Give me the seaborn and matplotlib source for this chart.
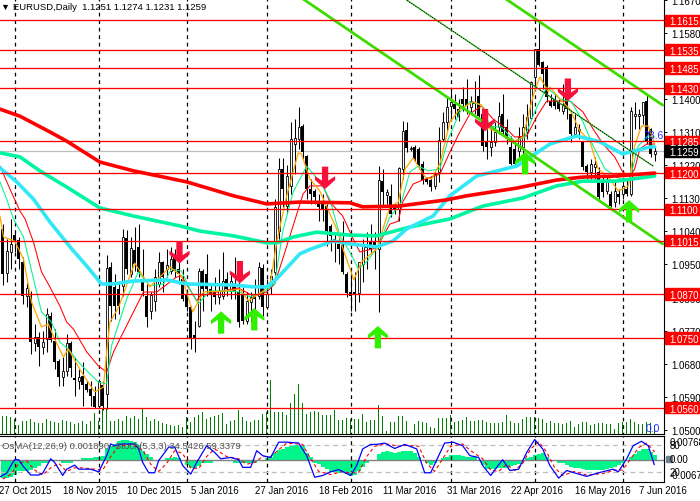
import matplotlib
matplotlib.use("Agg")
import matplotlib.pyplot as plt
import numpy as np
import seaborn as sns
from matplotlib.patches import Rectangle
from matplotlib.path import Path as MPath
from matplotlib.transforms import blended_transform_factory

opens = [
    1.1047, 1.0927, 1.0984, 1.1030, 1.1017, 1.0957, 1.0864, 1.0864, 1.0736, 1.0753,
    1.0725, 1.0747, 1.0810, 1.0742, 1.0687, 1.0644, 1.0660, 1.0736, 1.0641, 1.0633,
    1.0646, 1.0625, 1.0611, 1.0592, 1.0565, 1.0622, 1.0597, 1.0943, 1.0889, 1.0883,
    1.0892, 1.1022, 1.0924, 1.0990, 1.0998, 1.0911, 1.0864, 1.0823, 1.0851, 1.0897,
    1.0957, 1.0938, 1.0932, 1.0970, 1.0938, 1.0911, 1.0867, 1.0834, 1.0758, 1.0783,
    1.0932, 1.0924, 1.0883, 1.0878, 1.0862, 1.0864, 1.0911, 1.0878, 1.0892, 1.0875,
    1.0870, 1.0796, 1.0848, 1.0870, 1.0864, 1.0941, 1.0834, 1.0892, 1.0930, 1.1041,
    1.1210, 1.1109, 1.1164, 1.1278, 1.1292, 1.1327, 1.1245, 1.1156, 1.1150, 1.1120,
    1.1120, 1.1109, 1.1055, 1.1020, 1.1006, 1.1014, 1.0924, 1.0875, 1.0875, 1.0873,
    1.0951, 1.1006, 1.1011, 1.1014, 1.0992, 1.1177, 1.1139, 1.1137, 1.1109, 1.1101,
    1.1210, 1.1316, 1.1265, 1.1270, 1.1265, 1.1224, 1.1183, 1.1180, 1.1164, 1.1202,
    1.1292, 1.1338, 1.1382, 1.1387, 1.1373, 1.1401, 1.1401, 1.1379, 1.1393, 1.1409,
    1.1360, 1.1284, 1.1270, 1.1284, 1.1324, 1.1360, 1.1324, 1.1270, 1.1265, 1.1259,
    1.1270, 1.1311, 1.1349, 1.1461, 1.1537, 1.1501, 1.1488, 1.1395, 1.1401, 1.1393,
    1.1368, 1.1409, 1.1360, 1.1305, 1.1314, 1.1284, 1.1218, 1.1202, 1.1216, 1.1202,
    1.1175, 1.1150, 1.1142, 1.1120, 1.1142, 1.1142, 1.1156, 1.1142, 1.1354, 1.1354,
    1.1357, 1.1395, 1.1319, 1.1251,
]
highs = [
    1.1060, 1.1020, 1.1074, 1.1038, 1.1025, 1.0970, 1.0900, 1.0878, 1.0788, 1.0766,
    1.0769, 1.0832, 1.0821, 1.0774, 1.0693, 1.0698, 1.0761, 1.0742, 1.0698, 1.0665,
    1.0685, 1.0633, 1.0633, 1.0619, 1.0638, 1.0633, 1.0976, 1.0957, 1.0924, 1.0905,
    1.1047, 1.1044, 1.1025, 1.1052, 1.1060, 1.0992, 1.0897, 1.0875, 1.0938, 1.0984,
    1.0960, 1.0992, 1.0998, 1.0992, 1.0960, 1.0938, 1.0883, 1.0837, 1.0796, 1.0941,
    1.0938, 1.0979, 1.0897, 1.0916, 1.0938, 1.0984, 1.0930, 1.0924, 1.0970, 1.0924,
    1.0889, 1.0875, 1.0875, 1.0911, 1.0957, 1.0951, 1.0911, 1.0938, 1.1128, 1.1240,
    1.1240, 1.1221, 1.1338, 1.1346, 1.1379, 1.1333, 1.1248, 1.1183, 1.1156, 1.1142,
    1.1142, 1.1115, 1.1060, 1.1033, 1.1025, 1.1068, 1.0930, 1.0932, 1.0930, 1.0957,
    1.1020, 1.1038, 1.1060, 1.1038, 1.1218, 1.1210, 1.1156, 1.1169, 1.1115, 1.1215,
    1.1341, 1.1338, 1.1273, 1.1275, 1.1270, 1.1232, 1.1188, 1.1191, 1.1205, 1.1324,
    1.1365, 1.1406, 1.1428, 1.1414, 1.1401, 1.1433, 1.1455, 1.1409, 1.1450, 1.1466,
    1.1365, 1.1319, 1.1341, 1.1338, 1.1393, 1.1414, 1.1346, 1.1300, 1.1286, 1.1324,
    1.1360, 1.1387, 1.1450, 1.1537, 1.1613, 1.1504, 1.1493, 1.1414, 1.1414, 1.1401,
    1.1442, 1.1447, 1.1365, 1.1360, 1.1333, 1.1286, 1.1224, 1.1237, 1.1243, 1.1216,
    1.1191, 1.1188, 1.1150, 1.1177, 1.1156, 1.1183, 1.1183, 1.1379, 1.1393, 1.1373,
    1.1393, 1.1412, 1.1322, 1.1274,
]
lows = [
    1.0894, 1.0902, 1.0938, 1.0984, 1.0938, 1.0843, 1.0834, 1.0706, 1.0715, 1.0674,
    1.0706, 1.0712, 1.0739, 1.0665, 1.0619, 1.0619, 1.0646, 1.0644, 1.0592, 1.0611,
    1.0565, 1.0603, 1.0565, 1.0559, 1.0559, 1.0554, 1.0557, 1.0796, 1.0802, 1.0815,
    1.0864, 1.0924, 1.0916, 1.0932, 1.0916, 1.0864, 1.0780, 1.0802, 1.0823, 1.0889,
    1.0875, 1.0916, 1.0924, 1.0916, 1.0897, 1.0851, 1.0823, 1.0720, 1.0712, 1.0780,
    1.0823, 1.0864, 1.0823, 1.0843, 1.0843, 1.0856, 1.0864, 1.0856, 1.0856, 1.0780,
    1.0788, 1.0788, 1.0793, 1.0829, 1.0856, 1.0810, 1.0829, 1.0870, 1.0921, 1.1020,
    1.1107, 1.1088, 1.1142, 1.1196, 1.1265, 1.1237, 1.1128, 1.1115, 1.1115, 1.1068,
    1.1068, 1.1000, 1.0987, 1.0957, 1.0951, 1.0924, 1.0862, 1.0823, 1.0823, 1.0848,
    1.0902, 1.0938, 1.0984, 1.0938, 1.0821, 1.1109, 1.1115, 1.1079, 1.1088, 1.1068,
    1.1183, 1.1256, 1.1259, 1.1232, 1.1210, 1.1169, 1.1169, 1.1150, 1.1156, 1.1175,
    1.1286, 1.1311, 1.1346, 1.1346, 1.1341, 1.1368, 1.1360, 1.1360, 1.1360, 1.1352,
    1.1259, 1.1237, 1.1245, 1.1273, 1.1305, 1.1305, 1.1278, 1.1221, 1.1218, 1.1237,
    1.1251, 1.1292, 1.1346, 1.1433, 1.1491, 1.1428, 1.1393, 1.1379, 1.1373, 1.1368,
    1.1360, 1.1346, 1.1284, 1.1300, 1.1292, 1.1207, 1.1183, 1.1183, 1.1183, 1.1128,
    1.1134, 1.1142, 1.1107, 1.1107, 1.1115, 1.1128, 1.1137, 1.1137, 1.1319, 1.1319,
    1.1333, 1.1278, 1.1243, 1.1231,
]
closes = [
    1.0924, 1.0987, 1.1006, 1.1011, 1.0965, 1.0864, 1.0886, 1.0739, 1.0753, 1.0725,
    1.0739, 1.0815, 1.0744, 1.0685, 1.0644, 1.0660, 1.0736, 1.0668, 1.0636, 1.0644,
    1.0622, 1.0608, 1.0592, 1.0562, 1.0633, 1.0565, 1.0941, 1.0837, 1.0837, 1.0837,
    1.1025, 1.0938, 1.0995, 1.0951, 1.0930, 1.0878, 1.0807, 1.0867, 1.0916, 1.0957,
    1.0916, 1.0949, 1.0965, 1.0932, 1.0924, 1.0856, 1.0834, 1.0747, 1.0750, 1.0932,
    1.0883, 1.0883, 1.0870, 1.0862, 1.0878, 1.0905, 1.0883, 1.0905, 1.0878, 1.0793,
    1.0796, 1.0851, 1.0862, 1.0856, 1.0943, 1.0834, 1.0870, 1.0919, 1.1107, 1.1210,
    1.1156, 1.1191, 1.1292, 1.1295, 1.1324, 1.1256, 1.1156, 1.1142, 1.1134, 1.1107,
    1.1101, 1.1041, 1.1028, 1.1011, 1.0992, 1.0930, 1.0873, 1.0864, 1.0870, 1.0957,
    1.1006, 1.0995, 1.0992, 1.0998, 1.1180, 1.1147, 1.1147, 1.1088, 1.1101, 1.1213,
    1.1314, 1.1267, 1.1267, 1.1237, 1.1221, 1.1180, 1.1175, 1.1161, 1.1196, 1.1289,
    1.1338, 1.1379, 1.1393, 1.1373, 1.1352, 1.1387, 1.1382, 1.1395, 1.1387, 1.1354,
    1.1273, 1.1270, 1.1284, 1.1311, 1.1354, 1.1311, 1.1297, 1.1224, 1.1224, 1.1297,
    1.1324, 1.1352, 1.1447, 1.1537, 1.1493, 1.1469, 1.1406, 1.1382, 1.1382, 1.1373,
    1.1387, 1.1373, 1.1305, 1.1324, 1.1319, 1.1216, 1.1202, 1.1224, 1.1224, 1.1134,
    1.1147, 1.1175, 1.1109, 1.1150, 1.1134, 1.1164, 1.1142, 1.1368, 1.1360, 1.1360,
    1.1393, 1.1284, 1.1251, 1.1259,
]
volumes = [
    1800, 1800, 1700, 1500, 900, 1300, 1300, 1500, 1200, 1100,
    1100, 1500, 1300, 1200, 1100, 1400, 1300, 1200, 1000, 1100,
    1300, 1000, 1300, 2100, 1300, 2500, 2600, 1300, 1300, 1500,
    1300, 1800, 1600, 1800, 1500, 2600, 1700, 1300, 1500, 1300,
    1100, 1000, 900, 800, 900, 700, 1700, 1200, 1700, 1900,
    2200, 1500, 1700, 1800, 1900, 2100, 1000, 1300, 1400, 2400,
    1700, 1300, 1200, 1400, 1400, 2000, 2200, 5400, 2200, 2200,
    2200, 1900, 3100, 4000, 5000, 3100, 2000, 2200, 2300, 2200,
    1900, 1900, 1900, 2400, 1400, 1400, 1600, 1500, 1500, 1500,
    2000, 1200, 1400, 1400, 2900, 1800, 300, 1200, 1200, 1800,
    1800, 1300, 100, 1000, 1300, 1200, 1100, 700, 600, 1600,
    1600, 1600, 1900, 1200, 1300, 1400, 1700, 1300, 1300, 1400,
    1400, 1200, 1100, 1100, 1100, 1200, 1900, 1300, 1100, 1100,
    1500, 1700, 1700, 1700, 1600, 1500, 1100, 1300, 1100, 1100,
    1000, 1100, 1300, 700, 1000, 1200, 1200, 900, 1000, 1100,
    1100, 1000, 1000, 500, 1100, 1200, 1200, 1500, 1200, 1000,
    1000, 1200, 1100, 900,
]
# OsMA in units of 0.0001
osma_points = [
    -77, -77, -73, -65, -47, -47, -47, -43, -34, -26,
    -13, -9, -4, 0, -4, -9, -13, -13, -4, 4,
    9, 9, 9, 13, 17, 21, 52, 65, 73, 86,
    90, 90, 86, 82, 69, 43, 30, 13, 4, 4,
    4, 9, 9, 13, 9, 4, -21, -34, -34, -26,
    -13, -13, -9, -4, 0, -4, -4, -4, -9, -9,
    -9, -13, -13, -9, -4, 0, 9, 17, 34, 47,
    52, 60, 65, 69, 69, 69, 34, 13, -9, -17,
    -30, -39, -52, -52, -56, -56, -60, -69, -65, -47,
    -30, -13, -4, 4, 30, 39, 43, 39, 34, 39,
    43, 43, 43, 34, 17, 4, -9, -21, -13, 0,
    9, 17, 26, 26, 26, 21, 17, 17, 13, -4,
    -21, -39, -39, -39, -34, -34, -34, -26, -21, -17,
    -4, 9, 17, 26, 30, 34, 17, 4, -4, -9,
    -13, -21, -30, -34, -34, -39, -43, -43, -43, -43,
    -43, -39, -34, -30, -21, -13, 4, 13, 30, 43,
    52, 52, 39, 26,
]

ma200_bars = [-0.67, 4.3, 11.8, 16, 24.3, 32.7, 46, 57.7, 66, 74.3, 86.8, 90, 99, 111, 116, 128.5, 138.5, 145, 153.5, 163]
ma200 = [1.1373, 1.1354, 1.1311, 1.1286, 1.1229, 1.1205, 1.1175, 1.1137, 1.1115, 1.1120, 1.1118, 1.1107, 1.1109, 1.1126, 1.1137, 1.1158, 1.1180, 1.1188, 1.1191, 1.1199]
ma100_bars = [-0.67, 4.3, 9.3, 16, 24.3, 32.7, 44.3, 49.3, 57.7, 66, 68.5, 72.7, 78.5, 86.8, 93.5, 101.8, 111.8, 120, 130, 138.5, 145, 153.5, 163]
ma100 = [1.1254, 1.1243, 1.1205, 1.1161, 1.1104, 1.1082, 1.1055, 1.1041, 1.1028, 1.1009, 1.1009, 1.1025, 1.1038, 1.1030, 1.1028, 1.1052, 1.1074, 1.1109, 1.1131, 1.1164, 1.1177, 1.1177, 1.1191]
ma50_bars = [-0.67, 3.5, 7.7, 11.8, 17.3, 21, 24.7, 27.7, 32.7, 41, 46, 57.7, 62.7, 66, 68.5, 74.3, 77, 82.7, 86.8, 93.5, 97.6, 101, 107.6, 111.8, 118.5, 128.5, 136.8, 143.5, 149.3, 155, 161.8, 163]
ma50 = [1.1213, 1.1175, 1.1128, 1.1066, 1.0992, 1.0946, 1.0897, 1.0897, 1.0905, 1.0908, 1.0897, 1.0894, 1.0889, 1.0889, 1.0911, 1.0979, 1.0992, 1.1014, 1.1006, 1.0998, 1.1014, 1.1047, 1.1082, 1.1137, 1.1191, 1.1218, 1.1278, 1.1300, 1.1284, 1.1251, 1.1270, 1.1270]
slow_red_bars = [-0.67, 1.8, 4.3, 5.6, 7.7, 9.7, 11.8, 14.3, 16, 17.7, 21, 23.9, 26, 27.7, 32.7, 35.2, 38.5, 43.5, 44.7, 48.5, 49.3, 53.5, 58.9, 62.7, 66, 68, 70, 72.6, 75.1, 76.8, 80.1, 81.8, 85, 87.6, 89.3, 93.5, 96.8, 98.9, 100, 102.6, 105, 109.3, 111.8, 114.3, 116.8, 119.7, 122.6, 126, 128, 131, 133.5, 136, 139.3, 141.8, 145.1, 147.6, 150.1, 153, 155, 156.8, 158, 159.3, 161, 163]
slow_red = [1.1218, 1.1156, 1.1096, 1.1074, 1.1011, 1.0930, 1.0889, 1.0837, 1.0793, 1.0774, 1.0712, 1.0674, 1.0657, 1.0712, 1.0821, 1.0875, 1.0875, 1.0916, 1.0919, 1.0851, 1.0864, 1.0875, 1.0886, 1.0864, 1.0875, 1.0897, 1.0965, 1.1055, 1.1142, 1.1164, 1.1164, 1.1120, 1.1082, 1.1020, 1.0984, 1.0995, 1.1060, 1.1068, 1.1120, 1.1169, 1.1180, 1.1196, 1.1256, 1.1311, 1.1360, 1.1382, 1.1346, 1.1319, 1.1297, 1.1300, 1.1352, 1.1395, 1.1395, 1.1395, 1.1365, 1.1319, 1.1278, 1.1243, 1.1202, 1.1191, 1.1210, 1.1265, 1.1278, 1.1278]
mid_green_bars = [-0.67, 1, 2.7, 5.2, 7.7, 9.7, 12.2, 14.3, 16.8, 18.9, 21.8, 23.9, 26, 27.2, 31, 33.9, 36.8, 40.2, 42.2, 44.7, 46.8, 48.9, 51.8, 56, 59.3, 61.8, 65.2, 68, 70, 72.6, 76, 79.3, 81.8, 84.3, 86.8, 88.9, 91, 93.9, 96.8, 99.7, 101.8, 103.9, 106.4, 109.3, 111.4, 114.3, 116.8, 119.7, 121.8, 124.7, 128, 130.5, 133, 136, 139.3, 142.2, 145.1, 147.6, 150.6, 154.3, 156.8, 158.9, 161.4, 163]
mid_green = [1.1175, 1.1128, 1.1074, 1.1025, 1.0911, 1.0821, 1.0793, 1.0739, 1.0715, 1.0685, 1.0652, 1.0630, 1.0625, 1.0728, 1.0856, 1.0930, 1.0892, 1.0897, 1.0938, 1.0932, 1.0883, 1.0843, 1.0878, 1.0878, 1.0875, 1.0862, 1.0875, 1.0897, 1.1039, 1.1147, 1.1218, 1.1175, 1.1128, 1.1028, 1.0984, 1.0938, 1.0957, 1.1000, 1.1079, 1.1120, 1.1202, 1.1218, 1.1205, 1.1210, 1.1292, 1.1365, 1.1393, 1.1384, 1.1327, 1.1324, 1.1286, 1.1297, 1.1365, 1.1433, 1.1401, 1.1393, 1.1338, 1.1273, 1.1210, 1.1183, 1.1183, 1.1273, 1.1300, 1.1297]
fast_orange_bars = [-0.67, 0.2, 3, 5.2, 7.2, 9.7, 11.4, 13, 15.2, 16.4, 19.7, 23, 25.2, 26, 26.8, 29, 33, 36.8, 41.8, 44.7, 47.5, 50.2, 56, 59.3, 61.4, 65.2, 67, 68.5, 71, 73.9, 74.7, 76.8, 79.3, 81.8, 83.5, 85.1, 87.8, 89.7, 93.5, 96.8, 98.9, 100.6, 102.6, 105.6, 107.2, 109.3, 111.8, 114.3, 117.6, 119.7, 121.8, 124.7, 128, 130.1, 132.6, 134.3, 136.4, 136.8, 139.3, 141.8, 144.3, 146.8, 148.9, 151.8, 153.9, 156.4, 158, 159.7, 161.4, 163]
fast_orange = [1.1082, 1.1025, 1.1014, 1.0965, 1.0848, 1.0780, 1.0788, 1.0747, 1.0698, 1.0720, 1.0657, 1.0603, 1.0616, 1.0712, 1.0793, 1.0834, 1.0954, 1.0889, 1.0943, 1.0919, 1.0821, 1.0875, 1.0878, 1.0883, 1.0851, 1.0878, 1.0905, 1.1011, 1.1137, 1.1254, 1.1251, 1.1183, 1.1150, 1.1088, 1.1047, 1.0992, 1.0908, 1.0957, 1.0992, 1.1107, 1.1120, 1.1210, 1.1240, 1.1188, 1.1183, 1.1224, 1.1338, 1.1373, 1.1393, 1.1384, 1.1319, 1.1305, 1.1286, 1.1297, 1.1409, 1.1461, 1.1420, 1.1433, 1.1401, 1.1373, 1.1314, 1.1286, 1.1210, 1.1183, 1.1150, 1.1164, 1.1273, 1.1327, 1.1327, 1.1278]

stoch_bars = [-0.67, 1, 2.25, 3, 4, 5, 7, 9, 10, 12, 13, 15, 16, 18, 19, 22, 24, 26, 27, 28, 30, 33, 34, 35, 36.5, 38, 39, 41.5, 43, 45, 47, 48.5, 51, 53, 54.5, 57, 59, 60, 62, 63.5, 65, 67, 69, 71, 74, 76, 78, 80, 82, 84, 87, 88.5, 90, 92, 93.5, 95.5, 98, 100.5, 103.5, 105.5, 107, 109, 110.5, 112.6, 115, 116.8, 119, 120, 122, 123.5, 125, 126.8, 129, 131, 133, 135, 136.8, 139, 141, 144, 146, 149, 152.6, 153.9, 156, 157.6, 159.7, 161.4, 162.9]
stoch_main = [10, 18, 38, 48, 48, 35, 14, 14, 18, 50, 42, 13, 27, 36, 27, 27, 21, 57, 83, 79, 83, 83, 72, 42, 19, 19, 46, 76, 76, 35, 16, 42, 79, 64, 50, 53, 48, 31, 31, 68, 57, 53, 87, 87, 85, 57, 9, 13, 21, 26, 13, 35, 72, 82, 82, 85, 73, 82, 72, 19, 19, 57, 85, 87, 79, 57, 53, 35, 13, 31, 48, 24, 27, 64, 93, 72, 35, 7, 24, 16, 11, 19, 27, 21, 50, 79, 89, 79, 37]
signal_bars = [0, 2, 4, 6, 8, 10, 12, 14, 16, 18, 20, 23, 25, 27, 29, 32, 35, 37, 39, 41, 43, 45, 47, 49, 51, 53, 56, 59, 61, 63, 65, 67, 69, 71, 75, 77, 79, 82, 85, 87, 89, 91, 93, 96, 99, 101, 104, 106, 108, 110, 112, 115, 117, 120, 122, 124, 126, 128, 130, 132, 134, 136, 138, 140, 143, 146, 150, 153, 155, 157, 159, 161, 163]
stoch_signal = [5, 15, 40, 45, 25, 14, 30, 40, 22, 30, 30, 27, 25, 55, 78, 82, 70, 38, 22, 40, 68, 62, 30, 28, 55, 72, 55, 50, 38, 42, 55, 55, 70, 85, 82, 50, 22, 15, 22, 18, 20, 55, 78, 83, 78, 80, 78, 40, 22, 50, 78, 83, 68, 50, 25, 22, 38, 24, 40, 72, 88, 65, 30, 13, 22, 14, 17, 25, 25, 50, 75, 85, 65]

level_prices = [1.1615, 1.1535, 1.1485, 1.1430, 1.1285, 1.1200, 1.1100, 1.1015, 1.0870, 1.0750, 1.0560]
level_labels = ["1.1615", "1.1535", "1.1485", "1.1430", "1.1285", "1.1200", "1.1100", "1.1015", "1.0870", "1.0750", "1.0560"]
axis_prices = [1.1670, 1.1580, 1.1490, 1.1400, 1.1310, 1.1220, 1.1130, 1.1040, 1.0950, 1.0860, 1.0770, 1.0680, 1.0590, 1.0500]
separator_bars = [3, 24, 46, 66, 87, 112, 133, 155]
date_bars = [-1, 15, 31, 47, 63, 79, 95, 111, 127, 143, 159]
date_labels = ["27 Oct 2015", "18 Nov 2015", "10 Dec 2015", "5 Jan 2016", "27 Jan 2016", "18 Feb 2016",
               "11 Mar 2016", "31 Mar 2016", "22 Apr 2016", "16 May 2016", "7 Jun 2016"]
channel_bars = [[75.1, 165], [125.8, 165]]
channel_prices = [[1.1673, 1.1006], [1.1673, 1.1384]]
mid_channel_bars = [100.6, 162.6]
mid_channel_prices = [1.1673, 1.1218]
sell_bars = [44.2, 59.3, 80.6, 120.6, 141.3]
sell_prices = [1.0983, 1.0929, 1.1186, 1.1343, 1.1426]
buy_bars = [54.6, 62.9, 93.8, 130.6, 156.6]
buy_prices = [1.0792, 1.0801, 1.0752, 1.1226, 1.1095]

LAST_PRICE = 1.1259
RED = "#FF0000"
DOWN_ARROW = MPath([(-.28, 1), (.28, 1), (.28, -.25), (.9, .15), (.9, -.2), (0, -1), (-.9, -.2), (-.9, .15), (-.28, -.25), (-.28, 1)], closed=True)
UP_ARROW = MPath([(x, -y) for x, y in DOWN_ARROW.vertices], closed=True)

sns.set_theme(style="white")
plt.rcParams["font.family"] = ["Liberation Sans", "DejaVu Sans"]
plt.rcParams["axes.edgecolor"] = "black"
plt.rcParams["axes.linewidth"] = 0.8

W, H = 700, 502
fig = plt.figure(figsize=(7, 5.02), dpi=100)
ax_vol = fig.add_axes([0, 1 - 434.5 / H, 664 / W, 434.5 / H], zorder=0)
ax = fig.add_axes([0, 1 - 434.5 / H, 664 / W, 434.5 / H], zorder=1)
ax_osma = fig.add_axes([0, 1 - 482.5 / H, 664 / W, 46 / H], zorder=0)
ax_sub = fig.add_axes([0, 1 - 482.5 / H, 664 / W, 46 / H], zorder=1)
ax.patch.set_visible(False)
ax_sub.patch.set_visible(False)

xlim = (-0.67, 165.33)
bars = np.arange(len(opens))
opens_a, highs_a, lows_a, closes_a = map(np.array, (opens, highs, lows, closes))
rising = closes_a >= opens_a

# volume sits behind the candles, bars give a crisper green than thin lines
ax_vol.bar(bars, volumes, width=0.3, color="#008000", lw=0)
ax_vol.set(xlim=xlim, ylim=(0, 43450), xticks=[], yticks=[])
ax_vol.spines[:].set_visible(False)

ax.vlines(separator_bars, 1.04, 1.17, color="black", lw=0.9, linestyles=(0, (3, 3)), zorder=1)
ax.vlines(bars, lows_a, highs_a, color="black", lw=0.75, zorder=2)
ax.bar(bars[~rising], (opens_a - closes_a)[~rising], bottom=closes_a[~rising], width=0.62, color="black", lw=0, zorder=3)
ax.bar(bars[rising], (closes_a - opens_a)[rising], bottom=opens_a[rising], width=0.5, facecolor="white",
       edgecolor="black", lw=0.6, zorder=3)

ax.axhline(LAST_PRICE, color="#BEBEBE", lw=0.9, zorder=1.5)

for xs, ys, color, lw in [
    (slow_red_bars, slow_red, RED, 0.75),
    (mid_green_bars, mid_green, "#00F58A", 0.75),
    (fast_orange_bars, fast_orange, "#FFA500", 0.9),
    (ma100_bars, ma100, "#00F5A0", 2.6),
    (ma50_bars, ma50, "#30E8F8", 2.6),
    (ma200_bars, ma200, RED, 2.6),
]:
    sns.lineplot(x=xs, y=ys, color=color, lw=lw, estimator=None, sort=False, ax=ax, zorder=4)

for xs, ys in zip(channel_bars, channel_prices):
    sns.lineplot(x=xs, y=ys, color="#3CDC00", lw=2.0, estimator=None, ax=ax, zorder=5)
sns.lineplot(x=mid_channel_bars, y=mid_channel_prices, color="#30C020", lw=0.9, estimator=None, ax=ax, zorder=5)
sns.lineplot(x=mid_channel_bars, y=mid_channel_prices, color="black", lw=0.6, ls=(0, (1.5, 1.5)), estimator=None, ax=ax, zorder=5)

for price in level_prices:
    ax.axhline(price, color=RED, lw=0.95, zorder=5)

sns.scatterplot(x=sell_bars, y=sell_prices, marker=DOWN_ARROW, s=260, color="#F8103C", edgecolor="none", ax=ax, zorder=6)
sns.scatterplot(x=buy_bars, y=buy_prices, marker=UP_ARROW, s=260, color="#30F000", edgecolor="none", ax=ax, zorder=6)

ax.set(xlim=xlim, ylim=(1.1673 - 434.5 / 3672, 1.1673), xticks=[], xlabel="", ylabel="")
ax.yaxis.tick_right()
ax.set_yticks(axis_prices, [f"{p:.4f}" for p in axis_prices])
ax.tick_params(axis="y", right=True, length=2.5, width=0.7, pad=2.5, labelsize=7, labelcolor="black", color="black")
for name in ("left", "top"):
    ax.spines[name].set_visible(False)

price_tr = ax.get_yaxis_transform()
for price, label in zip(level_prices, level_labels):
    ax.add_patch(Rectangle((1.0015, price - 0.00155), 0.06, 0.0031, transform=price_tr, color=RED, clip_on=False, zorder=10))
    ax.text(1.0085, price, label, transform=price_tr, color="white", fontsize=7, va="center_baseline", ha="left", zorder=11, clip_on=False)
ax.add_patch(Rectangle((1.0015, LAST_PRICE - 0.00155), 0.06, 0.0031, transform=price_tr, color="black", clip_on=False, zorder=10))
ax.text(1.0085, LAST_PRICE, f"{LAST_PRICE:.4f}", transform=price_tr, color="white", fontsize=7, va="center_baseline", ha="left", zorder=11, clip_on=False)

ax.text(0.0195, 0.9825, "EURUSD,Daily  1.1251 1.1274 1.1231 1.1259", transform=ax.transAxes, fontsize=6.8, color="black", va="center", zorder=12)
ax.scatter([0.0075], [0.982], marker="v", s=14, color="black", transform=ax.transAxes, zorder=12, lw=0)
ax.text(162.6, 1.1303, "23.6", color="#2A2AFF", fontsize=7.5, ha="center", va="center", zorder=12)
ax.text(162.6, 1.0505, "0.0", color="#2A2AFF", fontsize=7.5, ha="center", va="center", zorder=12)

# indicator window: OsMA bars behind, stochastic on top
ax_osma.bar(bars, np.array(osma_points) / 10000, width=0.95, color="#00F58A", lw=0)
ax_osma.axhline(0, color="#808080", lw=1.0)
ax_osma.set(xlim=xlim, ylim=(-0.00918, 0.01089), xticks=[], yticks=[])
ax_osma.spines[:].set_visible(False)

ax_sub.vlines(separator_bars, -1, 102, color="black", lw=0.9, linestyles=(0, (3, 3)), zorder=1)
for level in (20, 80):
    ax_sub.axhline(level, color="#BEBEBE", lw=0.9, ls=(0, (4, 3)), zorder=1)
sns.lineplot(x=signal_bars, y=stoch_signal, color="#FF0000", lw=0.8, ls=(0, (3, 2.5)), estimator=None, sort=False, ax=ax_sub, zorder=3)
sns.lineplot(x=stoch_bars, y=stoch_main, color="#0000FF", lw=0.9, estimator=None, sort=False, ax=ax_sub, zorder=4)
ax_sub.set(xlim=xlim, ylim=(-0.4, 101.8), xticks=[], yticks=[], xlabel="", ylabel="")
ax_sub.spines["left"].set_visible(False)

sub_tr = ax_sub.get_yaxis_transform()
ax_sub.text(0.003, 80.5, "OsMA(12,26,9) 0.001890 -Stoch(5,3,3) 34.5426 59.3379", transform=sub_tr, fontsize=6.8, color="#505050", va="center", zorder=6)
ax_sub.add_patch(Rectangle((1.0035, 43), 0.009, 14, transform=sub_tr, color="#708090", clip_on=False, zorder=5))
for value, label in [(87, "0.00768"), (80, "80"), (50, "0.00"), (20, "20"), (14, "-0.0067")]:
    ax_sub.text(1.0085, value, label, transform=sub_tr, fontsize=7, color="black", va="center", ha="left", clip_on=False, zorder=6)

date_tr = blended_transform_factory(ax_sub.transData, fig.transFigure)
for bar, label in zip(date_bars, date_labels):
    ax_sub.text(bar, 1 - 491 / H, label, transform=date_tr, fontsize=6.9, color="black", ha="left", va="center", clip_on=False)

fig.savefig("out.png", dpi=100)
